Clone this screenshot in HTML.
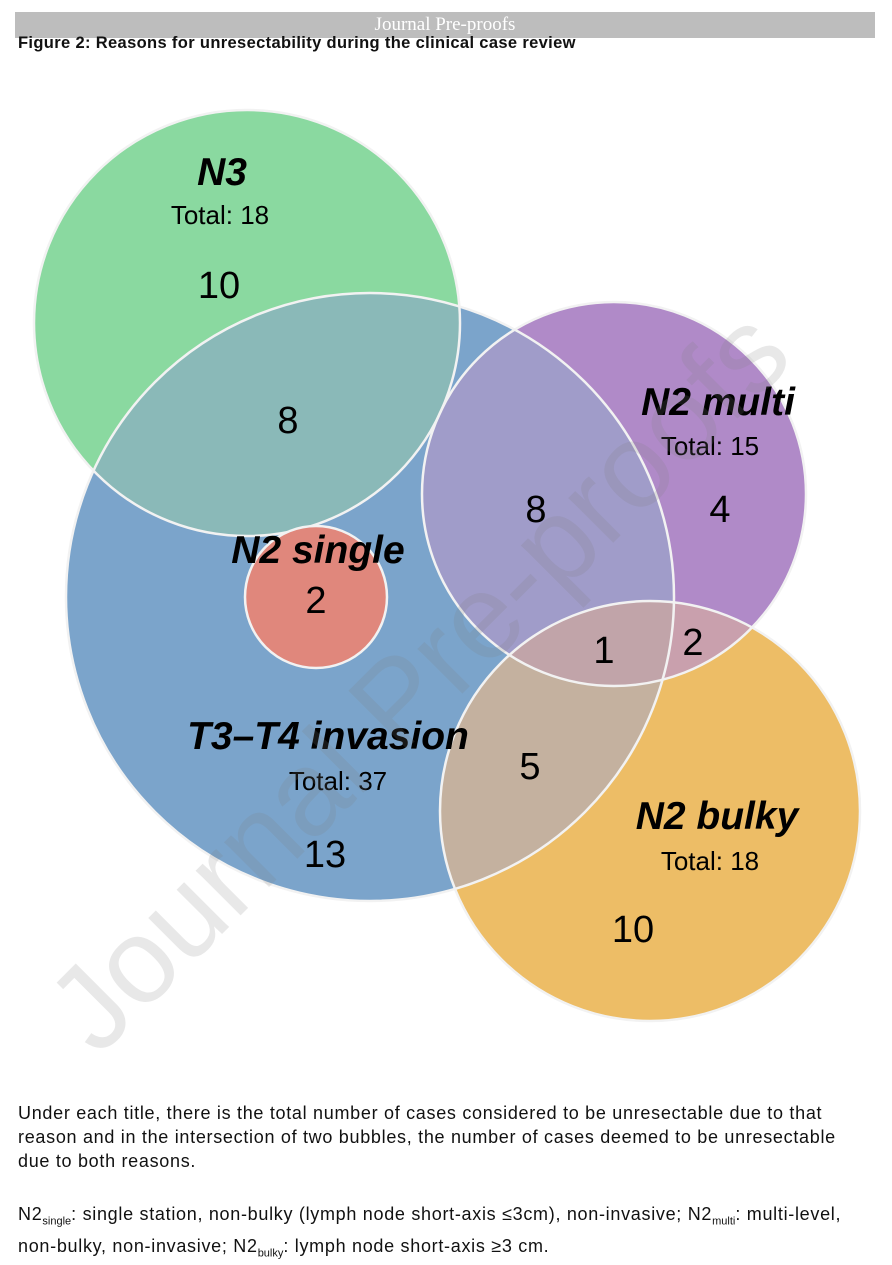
<!DOCTYPE html>
<html><head><meta charset="utf-8"><style>
body{margin:0;width:892px;height:1262px;background:#fff;position:relative;overflow:hidden;font-family:"Liberation Sans",sans-serif}
.hdr{position:absolute;left:15px;top:12px;width:860px;height:26px;background:#bdbdbd;color:#fff;font-family:"Liberation Serif",serif;font-size:19px;text-align:center;line-height:26px}
.title{position:absolute;left:18px;top:34px;font-weight:bold;font-size:16.5px;letter-spacing:0.35px;color:#111}
.cap{position:absolute;left:18px;font-size:18px;letter-spacing:0.7px;line-height:24px;color:#111;white-space:nowrap}
sub{font-size:11px;letter-spacing:0}
</style></head><body>
<div class="hdr">Journal Pre-proofs</div>
<div class="title">Figure 2: Reasons for unresectability during the clinical case review</div>
<svg width="892" height="1262" style="position:absolute;left:0;top:0" font-family="Liberation Sans, sans-serif">
<defs>
<clipPath id="cG"><circle cx="247" cy="323" r="213"/></clipPath>
<clipPath id="cB"><circle cx="370" cy="597" r="304"/></clipPath>
<clipPath id="cP"><circle cx="614" cy="494" r="192"/></clipPath>
<clipPath id="cO"><circle cx="650" cy="811" r="210"/></clipPath>
</defs>
<circle cx="370" cy="597" r="304" fill="#7ba4cb"/>
<circle cx="247" cy="323" r="213" fill="#8ad9a0"/>
<circle cx="614" cy="494" r="192" fill="#b08ac8"/>
<circle cx="650" cy="811" r="210" fill="#edbd66"/>
<circle cx="370" cy="597" r="304" fill="#8ab9b8" clip-path="url(#cG)"/>
<circle cx="370" cy="597" r="304" fill="#a09cc9" clip-path="url(#cP)"/>
<circle cx="370" cy="597" r="304" fill="#c4b19f" clip-path="url(#cO)"/>
<circle cx="614" cy="494" r="192" fill="#c9a0ad" clip-path="url(#cO)"/>
<g clip-path="url(#cB)"><circle cx="614" cy="494" r="192" fill="#c1a4a9" clip-path="url(#cO)"/></g>
<g stroke="#f2f2f2" stroke-width="2.5" fill="none">
<circle cx="370" cy="597" r="304"/>
<circle cx="247" cy="323" r="213"/>
<circle cx="614" cy="494" r="192"/>
<circle cx="650" cy="811" r="210"/>
</g>
<circle cx="316" cy="597" r="71" fill="#e0877c" stroke="#f2f2f2" stroke-width="2.5"/>
<g fill="#000" text-anchor="middle">
<text x="222" y="185" font-size="39" font-weight="bold" font-style="italic">N3</text>
<text x="220" y="224" font-size="26">Total: 18</text>
<text x="219" y="298" font-size="38">10</text>
<text x="288" y="433" font-size="38">8</text>
<text x="718" y="415" font-size="39" font-weight="bold" font-style="italic">N2 multi</text>
<text x="710" y="455" font-size="26">Total: 15</text>
<text x="720" y="522" font-size="38">4</text>
<text x="536" y="522" font-size="38">8</text>
<text x="318" y="563" font-size="39" font-weight="bold" font-style="italic">N2 single</text>
<text x="316" y="613" font-size="38">2</text>
<text x="604" y="663" font-size="38">1</text>
<text x="693" y="655" font-size="38">2</text>
<text x="328" y="749" font-size="39" font-weight="bold" font-style="italic">T3–T4 invasion</text>
<text x="338" y="790" font-size="26">Total: 37</text>
<text x="530" y="779" font-size="38">5</text>
<text x="325" y="867" font-size="38">13</text>
<text x="717" y="829" font-size="39" font-weight="bold" font-style="italic">N2 bulky</text>
<text x="710" y="870" font-size="26">Total: 18</text>
<text x="633" y="942" font-size="38">10</text>
</g>
<text x="0" y="0" font-size="120" fill="rgba(130,130,130,0.18)" font-family="Liberation Sans, sans-serif" transform="translate(98,1058) rotate(-45)">Journal Pre-proofs</text>
</svg>
<div class="cap" style="top:1101px">Under each title, there is the total number of cases considered to be unresectable due to that<br>reason and in the intersection of two bubbles, the number of cases deemed to be unresectable<br>due to both reasons.</div>
<div class="cap" style="top:1202px">N2<sub>single</sub>: single station, non-bulky (lymph node short-axis ≤3cm), non-invasive; N2<sub>multi</sub>: multi-level,<br>non-bulky, non-invasive; N2<sub>bulky</sub>: lymph node short-axis ≥3 cm.</div>
</body></html>
